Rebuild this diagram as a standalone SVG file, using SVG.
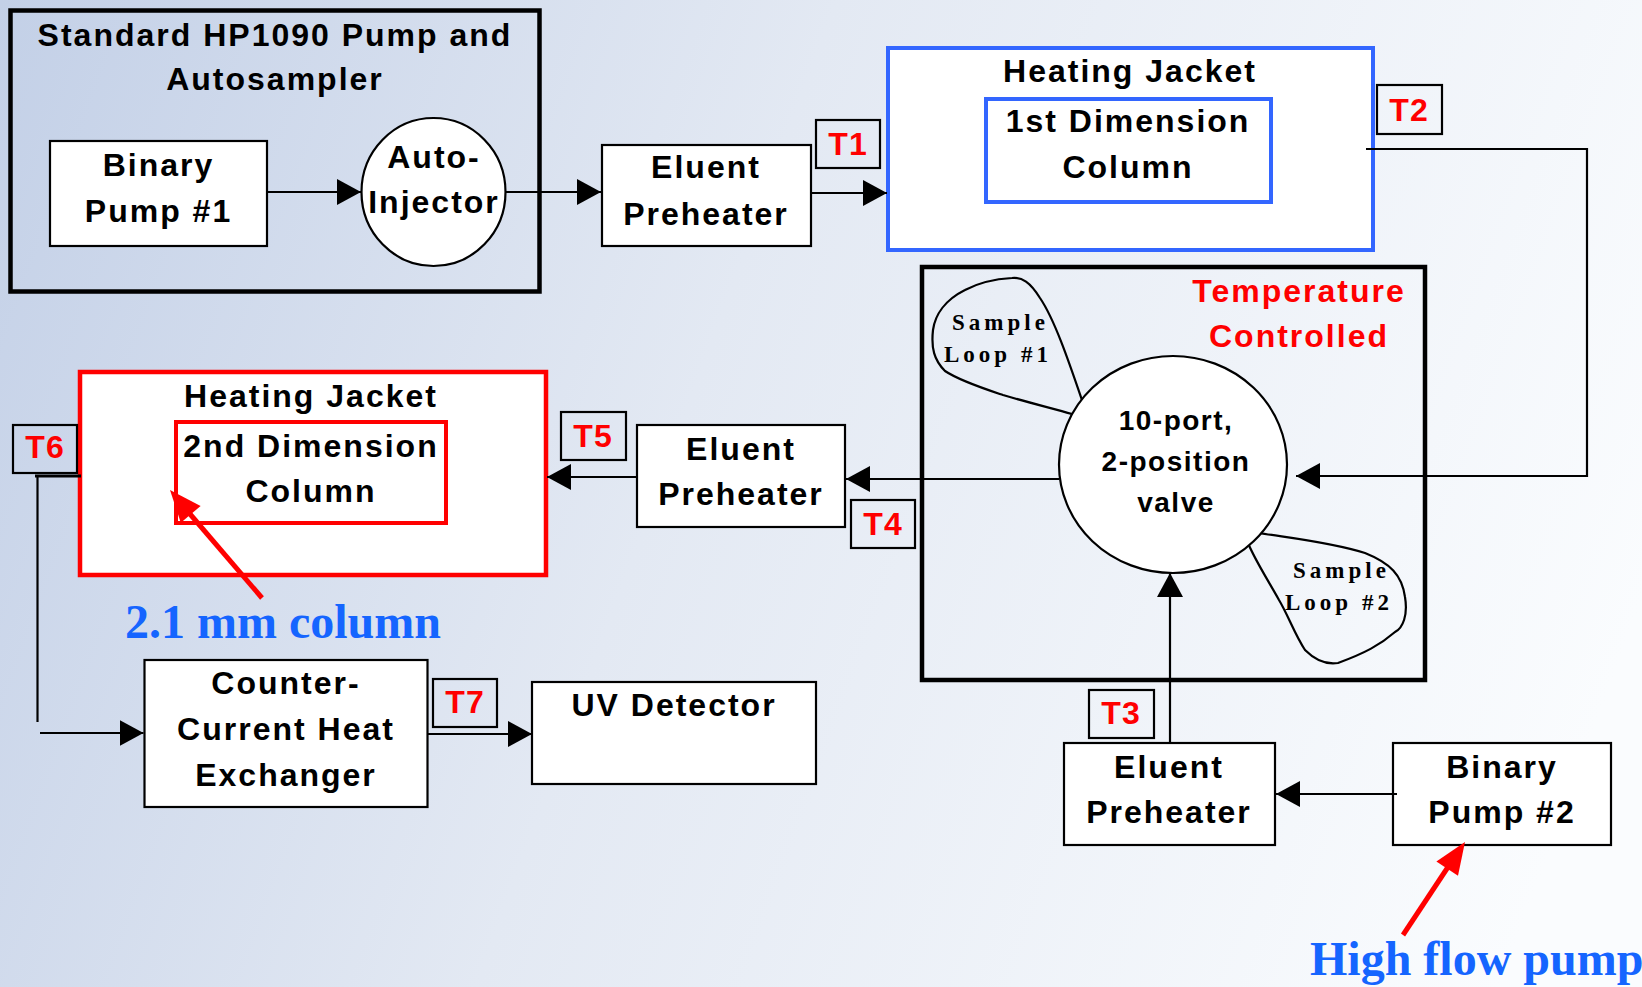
<svg xmlns="http://www.w3.org/2000/svg" width="1642" height="987" viewBox="0 0 1642 987">
<defs>
<linearGradient id="bg" gradientUnits="userSpaceOnUse" x1="0" y1="0" x2="1642" y2="600">
<stop offset="0" stop-color="#c3d0e7"/>
<stop offset="0.45" stop-color="#e3e9f3"/>
<stop offset="1" stop-color="#fafcfe"/>
</linearGradient>
<marker id="ah" markerUnits="userSpaceOnUse" markerWidth="24" markerHeight="26" refX="24" refY="13" orient="auto">
<path d="M0,0 L24,13 L0,26 z" fill="#000"/>
</marker>
<style>
.lbl{font-family:"Liberation Sans",Arial,sans-serif;font-weight:bold;font-size:32px;letter-spacing:2px;fill:#000;text-anchor:middle}
.vl{font-family:"Liberation Sans",Arial,sans-serif;font-weight:bold;font-size:28px;letter-spacing:1.5px;fill:#000;text-anchor:middle}
.tl{font-family:"Liberation Sans",Arial,sans-serif;font-weight:bold;font-size:32px;letter-spacing:1px;fill:#ff0000;text-anchor:middle}
.tc{font-family:"Liberation Sans",Arial,sans-serif;font-weight:bold;font-size:32px;letter-spacing:2px;fill:#ff0000;text-anchor:middle}
.sl{font-family:"Liberation Serif","Times New Roman",serif;font-weight:bold;font-size:23px;letter-spacing:4px;fill:#000}
.ann{font-family:"Liberation Serif","Times New Roman",serif;font-weight:bold;font-size:48px;fill:#1565ff}
.box{fill:#fff;stroke:#000;stroke-width:2.2}
.tbox{fill:none;stroke:#000;stroke-width:2.2}
.con{fill:none;stroke:#000;stroke-width:2.2}
</style>
</defs>
<rect x="0" y="0" width="1642" height="987" fill="url(#bg)"/>

<g id="hp1090">
<rect x="10.5" y="10.5" width="529" height="281" fill="none" stroke="#000" stroke-width="4.5"/>
<text class="lbl" x="275" y="46">Standard HP1090 Pump and</text>
<text class="lbl" x="275" y="90">Autosampler</text>
</g>

<g id="binary-pump-1">
<rect class="box" x="50" y="141" width="217" height="105"/>
<text class="lbl" x="158.5" y="176">Binary</text>
<text class="lbl" x="158.5" y="222">Pump #1</text>
</g>

<g id="auto-injector">
<ellipse cx="433.5" cy="192" rx="72" ry="74" fill="#fff" stroke="#000" stroke-width="2.2"/>
<text class="lbl" x="434" y="168">Auto-</text>
<text class="lbl" x="434" y="213">Injector</text>
</g>

<g id="eluent-preheater-1">
<rect class="box" x="602" y="145" width="209" height="101"/>
<text class="lbl" x="706" y="178">Eluent</text>
<text class="lbl" x="706" y="225">Preheater</text>
</g>

<g id="t1">
<rect class="tbox" x="816" y="120" width="64" height="48"/>
<text class="tl" x="848" y="155">T1</text>
</g>

<g id="heating-jacket-1">
<rect x="888" y="48" width="485" height="202" fill="#fff" stroke="#3366ff" stroke-width="4"/>
<text class="lbl" x="1130" y="82">Heating Jacket</text>
<rect x="986" y="99" width="285" height="103" fill="#fff" stroke="#3366ff" stroke-width="4"/>
<text class="lbl" x="1128" y="132">1st Dimension</text>
<text class="lbl" x="1128" y="178">Column</text>
</g>

<g id="t2">
<rect class="tbox" x="1377" y="85" width="65" height="49"/>
<text class="tl" x="1409" y="121">T2</text>
</g>

<g id="temperature-controlled">
<rect x="922" y="267" width="503" height="413" fill="none" stroke="#000" stroke-width="4.5"/>
<text class="tc" x="1299" y="302">Temperature</text>
<text class="tc" x="1299" y="347">Controlled</text>
</g>

<g id="sample-loop-1">
<path d="M1083,403 C1070,365 1055,320 1040,298 C1030,282 1022,277 1012,278 C995,279 980,282 965,290 C945,300 935,315 933,330 C931,348 934,360 945,371 C960,381 985,389 1003,395 C1030,403 1055,409 1072,414" fill="none" stroke="#000" stroke-width="2.2"/>
<text class="sl" x="952" y="330">Sample</text>
<text class="sl" x="944" y="362">Loop #1</text>
</g>

<g id="sample-loop-2">
<path d="M1259,533 C1290,538 1330,542 1365,553 C1390,563 1402,575 1405,597 C1408,615 1403,628 1395,632 C1380,645 1365,653 1338,663 C1325,665 1315,660 1305,650 C1295,635 1288,615 1279,600 C1265,575 1255,560 1248,543" fill="none" stroke="#000" stroke-width="2.2"/>
<text class="sl" x="1293" y="578">Sample</text>
<text class="sl" x="1285" y="610">Loop #2</text>
</g>

<g id="valve">
<ellipse cx="1173" cy="464.5" rx="114" ry="108.5" fill="#fff" stroke="#000" stroke-width="2.2"/>
<text class="vl" x="1176" y="430">10-port,</text>
<text class="vl" x="1176" y="471">2-position</text>
<text class="vl" x="1176" y="512">valve</text>
</g>

<g id="eluent-preheater-2">
<rect class="box" x="637" y="425" width="208" height="102"/>
<text class="lbl" x="741" y="460">Eluent</text>
<text class="lbl" x="741" y="505">Preheater</text>
</g>

<g id="t4">
<rect class="tbox" x="851" y="500" width="64" height="48"/>
<text class="tl" x="883" y="535">T4</text>
</g>

<g id="t5">
<rect class="tbox" x="561" y="412" width="65" height="48"/>
<text class="tl" x="593" y="447">T5</text>
</g>

<g id="heating-jacket-2">
<rect x="80" y="372" width="466" height="203" fill="#fff" stroke="#ff0000" stroke-width="4.5"/>
<text class="lbl" x="311" y="407">Heating Jacket</text>
<rect x="176" y="422" width="270" height="101" fill="#fff" stroke="#ff0000" stroke-width="4"/>
<text class="lbl" x="311" y="457">2nd Dimension</text>
<text class="lbl" x="311" y="502">Column</text>
</g>

<g id="t6">
<rect class="tbox" x="13" y="425" width="64" height="48"/>
<text class="tl" x="45" y="458">T6</text>
</g>

<g id="counter-current-heat-exchanger">
<rect class="box" x="144.5" y="660" width="283" height="147"/>
<text class="lbl" x="286" y="694">Counter-</text>
<text class="lbl" x="286" y="740">Current Heat</text>
<text class="lbl" x="286" y="786">Exchanger</text>
</g>

<g id="t7">
<rect class="tbox" x="433" y="679" width="64" height="48"/>
<text class="tl" x="465" y="713">T7</text>
</g>

<g id="uv-detector">
<rect class="box" x="532" y="682" width="284" height="102"/>
<text class="lbl" x="674" y="716">UV Detector</text>
</g>

<g id="eluent-preheater-3">
<rect class="box" x="1064" y="743" width="211" height="102"/>
<text class="lbl" x="1169" y="778">Eluent</text>
<text class="lbl" x="1169" y="823">Preheater</text>
</g>

<g id="t3">
<rect class="tbox" x="1089" y="690" width="65" height="48"/>
<text class="tl" x="1121" y="724">T3</text>
</g>

<g id="binary-pump-2">
<rect class="box" x="1393" y="743" width="218" height="102"/>
<text class="lbl" x="1502" y="778">Binary</text>
<text class="lbl" x="1502" y="823">Pump #2</text>
</g>

<g id="connectors">
<line class="con" x1="267" y1="192" x2="361" y2="192" marker-end="url(#ah)"/>
<line class="con" x1="506" y1="192" x2="601" y2="192" marker-end="url(#ah)"/>
<line class="con" x1="811" y1="193" x2="887" y2="193" marker-end="url(#ah)"/>
<polyline class="con" points="1366,149 1587,149 1587,476 1296,476" marker-end="url(#ah)"/>
<line class="con" x1="1059" y1="479" x2="846" y2="479" marker-end="url(#ah)"/>
<line class="con" x1="637" y1="477" x2="547" y2="477" marker-end="url(#ah)"/>
<line class="con" x1="1170" y1="743" x2="1170" y2="573" marker-end="url(#ah)"/>
<line class="con" x1="1397" y1="794" x2="1276" y2="794" marker-end="url(#ah)"/>
<line x1="35" y1="476" x2="81" y2="476" stroke="#000" stroke-width="3"/>
<line class="con" x1="37.5" y1="476" x2="37.5" y2="722"/>
<line class="con" x1="40" y1="733" x2="143.5" y2="733" marker-end="url(#ah)"/>
<line class="con" x1="427" y1="734" x2="532" y2="734" marker-end="url(#ah)"/>
</g>

<g id="annotation-column">
<line x1="262" y1="598" x2="190" y2="514" stroke="#ff0000" stroke-width="5"/>
<polygon points="170,490 200.6,506 180.8,522.8" fill="#ff0000"/>
<text class="ann" x="125" y="638">2.1 mm column</text>
</g>

<g id="annotation-pump">
<line x1="1403" y1="935" x2="1448" y2="867" stroke="#ff0000" stroke-width="5"/>
<polygon points="1465,842 1458,875.8 1436.4,861.4" fill="#ff0000"/>
<text class="ann" x="1310" y="975">High flow pump</text>
</g>
</svg>
